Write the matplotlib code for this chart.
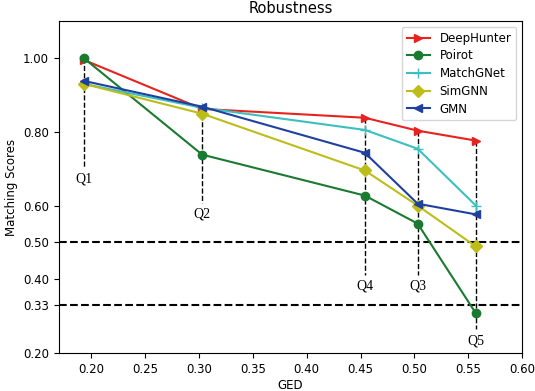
import matplotlib
matplotlib.use('Agg')
import matplotlib.pyplot as plt

# GED of each query graph
ged = [0.193, 0.303, 0.454, 0.503, 0.557]
queries = ['Q1', 'Q2', 'Q4', 'Q3', 'Q5']

# Matching scores per system
deephunter = [0.995, 0.862, 0.838, 0.803, 0.776]
poirot = [1.0, 0.738, 0.627, 0.551, 0.308]
matchgnet = [0.930, 0.865, 0.805, 0.754, 0.600]
simgnn = [0.930, 0.849, 0.695, 0.600, 0.489]
gmn = [0.938, 0.868, 0.743, 0.605, 0.576]

# where each query label sits
label_y = [0.673, 0.578, 0.382, 0.382, 0.234]
thresholds = [0.5, 0.33]
yticks = [0.2, 0.33, 0.4, 0.5, 0.6, 0.8, 1.0]

fig = plt.figure(figsize=(5.35, 3.91), dpi=100)
ax = fig.add_axes([0.110, 0.097, 0.866, 0.849])

ax.plot(ged, deephunter, color='#e8221f', marker='>', markersize=6, lw=1.5, label='DeepHunter')
ax.plot(ged, poirot, color='#1a7a2f', marker='o', markersize=6, lw=1.5, label='Poirot')
ax.plot(ged, matchgnet, color='#3dbfc0', marker='+', markersize=7, lw=1.5, label='MatchGNet')
ax.plot(ged, simgnn, color='#bdbd1a', marker='D', markersize=6, lw=1.5, label='SimGNN')
ax.plot(ged, gmn, color='#2040a0', marker='<', markersize=6, lw=1.5, label='GMN')

# dashed drop lines from the top point to each query label
tops = [max(v) for v in zip(deephunter, poirot, matchgnet, simgnn, gmn)]
for x, top, ly, q in zip(ged, tops, label_y, queries):
    ax.plot([x, x], [top, ly + 0.03], color='black', ls='--', lw=1.0, zorder=1)
    ax.text(x, ly, q, ha='center', va='center', fontsize=10,
            family='Liberation Serif')

for t in thresholds:
    ax.axhline(t, color='black', ls='--', lw=1.5, zorder=1)

ax.set_xlim(0.17, 0.60)
ax.set_ylim(0.2, 1.1)
ax.set_yticks(yticks)
ax.set_yticklabels(['%.2f' % v for v in yticks])
ax.set_xticks([0.20, 0.25, 0.30, 0.35, 0.40, 0.45, 0.50, 0.55, 0.60])
ax.tick_params(labelsize=8.5)
ax.set_title('Robustness', fontsize=10.5)
ax.set_xlabel('GED', fontsize=8.5, labelpad=2)
ax.set_ylabel('Matching Scores', fontsize=8.5)
ax.legend(loc='upper right', fontsize=8.5, labelspacing=0.4)

plt.savefig('out.png', dpi=100)
